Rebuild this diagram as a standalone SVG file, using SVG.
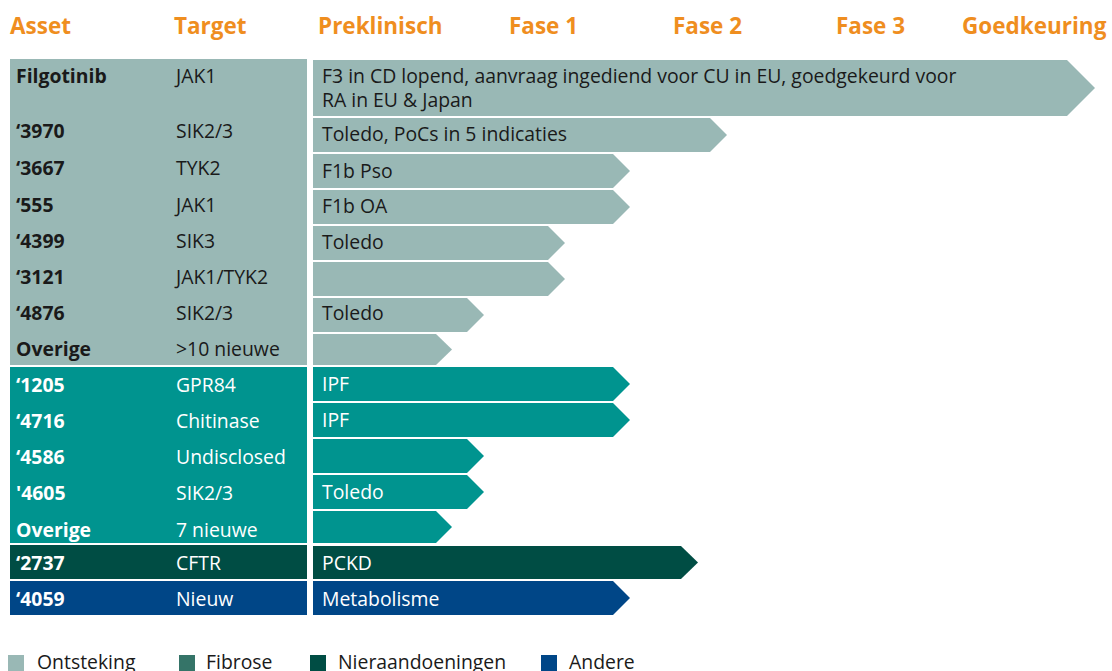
<svg xmlns="http://www.w3.org/2000/svg" width="1112" height="671" viewBox="0 0 1112 671">
  <style>
    .hdr { font-family: "Open Sans", "Liberation Sans", sans-serif; font-size: 22.5px; font-weight: 700; fill: #ef8e1f; }
    .txt { font-family: "Open Sans", "Liberation Sans", sans-serif; font-size: 19.4px; }
    .b { font-weight: 700; }
    .dk { fill: #1a1a1a; }
    .wh { fill: #ffffff; }
    .ont { fill: #99b8b5; }
    .fib { fill: #00948f; }
    .nier { fill: #004d44; }
    .and { fill: #004687; }
    .fibleg { fill: #357468; }
    .leg { font-family: "Open Sans", "Liberation Sans", sans-serif; font-size: 19.4px; fill: #1a1a1a; }
  </style>

  <rect width="1112" height="671" fill="#ffffff"/>

  <!-- column headers -->
  <g id="headers">
    <text class="hdr" x="10" y="34">Asset</text>
    <text class="hdr" x="174" y="34">Target</text>
    <text class="hdr" x="318" y="34">Preklinisch</text>
    <text class="hdr" x="509" y="34">Fase 1</text>
    <text class="hdr" x="673" y="34">Fase 2</text>
    <text class="hdr" x="836" y="34">Fase 3</text>
    <text class="hdr" x="962" y="34">Goedkeuring</text>
  </g>

  <!-- asset / target panel, one block per therapy area -->
  <g id="panel">
    <rect class="ont" x="10" y="59" width="297" height="306"/>
    <rect class="fib" x="10" y="367" width="297" height="176"/>
    <rect class="nier" x="10" y="545" width="297" height="34"/>
    <rect class="and" x="10" y="581" width="297" height="34"/>
  </g>

  <!-- progress arrows -->
  <g id="connectors">
    <polygon class="ont" points="313,60 1067,60 1095,88 1067,116 313,116"/>
    <polygon class="ont" points="313,118 710,118 727,135 710,152 313,152"/>
    <polygon class="ont" points="313,154 613,154 630,171 613,188 313,188"/>
    <polygon class="ont" points="313,190 613,190 630,207 613,224 313,224"/>
    <polygon class="ont" points="313,226 548,226 565,243 548,260 313,260"/>
    <polygon class="ont" points="313,262 548,262 565,279 548,296 313,296"/>
    <polygon class="ont" points="313,298 467,298 484,315 467,332 313,332"/>
    <polygon class="ont" points="313,334 436,334 452,349.5 436,365 313,365"/>
    <polygon class="fib" points="313,367 613,367 630,384 613,401 313,401"/>
    <polygon class="fib" points="313,403 613,403 630,420 613,437 313,437"/>
    <polygon class="fib" points="313,439 467,439 484,456 467,473 313,473"/>
    <polygon class="fib" points="313,475 467,475 484,492 467,509 313,509"/>
    <polygon class="fib" points="313,511 436,511 452,527 436,543 313,543"/>
    <polygon class="nier" points="313,546 681,546 698,562.5 681,579 313,579"/>
    <polygon class="and" points="313,581 613,581 630,598 613,615 313,615"/>
  </g>

  <!-- rows -->
  <g id="filgotinib" class="txt dk">
    <text class="b" x="16" y="83">Filgotinib</text>
    <text x="176" y="83">JAK1</text>
    <text x="322" y="83">F3 in CD lopend, aanvraag ingediend voor CU in EU, goedgekeurd voor</text>
    <text x="322" y="107">RA in EU &amp; Japan</text>
  </g>
  <g id="a3970" class="txt dk">
    <text class="b" x="16" y="138">‘3970</text>
    <text x="176" y="138">SIK2/3</text>
    <text x="322" y="141">Toledo, PoCs in 5 indicaties</text>
  </g>
  <g id="a3667" class="txt dk">
    <text class="b" x="16" y="175">‘3667</text>
    <text x="176" y="175">TYK2</text>
    <text x="322" y="178">F1b Pso</text>
  </g>
  <g id="a555" class="txt dk">
    <text class="b" x="16" y="212">‘555</text>
    <text x="176" y="212">JAK1</text>
    <text x="322" y="213">F1b OA</text>
  </g>
  <g id="a4399" class="txt dk">
    <text class="b" x="16" y="248">‘4399</text>
    <text x="176" y="248">SIK3</text>
    <text x="322" y="249">Toledo</text>
  </g>
  <g id="a3121" class="txt dk">
    <text class="b" x="16" y="284">‘3121</text>
    <text x="176" y="284">JAK1/TYK2</text>
  </g>
  <g id="a4876" class="txt dk">
    <text class="b" x="16" y="320">‘4876</text>
    <text x="176" y="320">SIK2/3</text>
    <text x="322" y="320">Toledo</text>
  </g>
  <g id="overige-ont" class="txt dk">
    <text class="b" x="16" y="356">Overige</text>
    <text x="176" y="356">&gt;10 nieuwe</text>
  </g>
  <g id="a1205" class="txt wh">
    <text class="b" x="16" y="392">‘1205</text>
    <text x="176" y="392">GPR84</text>
    <text x="322" y="391">IPF</text>
  </g>
  <g id="a4716" class="txt wh">
    <text class="b" x="16" y="428">‘4716</text>
    <text x="176" y="428">Chitinase</text>
    <text x="322" y="427">IPF</text>
  </g>
  <g id="a4586" class="txt wh">
    <text class="b" x="16" y="464">‘4586</text>
    <text x="176" y="464">Undisclosed</text>
  </g>
  <g id="a4605" class="txt wh">
    <text class="b" x="16" y="500">'4605</text>
    <text x="176" y="500">SIK2/3</text>
    <text x="322" y="499">Toledo</text>
  </g>
  <g id="overige-fib" class="txt wh">
    <text class="b" x="16" y="537">Overige</text>
    <text x="176" y="537">7 nieuwe</text>
  </g>
  <g id="a2737" class="txt wh">
    <text class="b" x="16" y="570">‘2737</text>
    <text x="176" y="570">CFTR</text>
    <text x="322" y="570">PCKD</text>
  </g>
  <g id="a4059" class="txt wh">
    <text class="b" x="16" y="606">‘4059</text>
    <text x="176" y="606">Nieuw</text>
    <text x="322" y="606">Metabolisme</text>
  </g>

  <!-- legend -->
  <g id="legend">
    <rect class="ont" x="8" y="655" width="16" height="16"/>
    <text class="leg" x="37" y="669">Ontsteking</text>
    <rect class="fibleg" x="179" y="655" width="16" height="16"/>
    <text class="leg" x="206" y="669">Fibrose</text>
    <rect class="nier" x="310" y="655" width="16" height="16"/>
    <text class="leg" x="338" y="669">Nieraandoeningen</text>
    <rect class="and" x="541" y="655" width="16" height="16"/>
    <text class="leg" x="569" y="669">Andere</text>
  </g>
</svg>
